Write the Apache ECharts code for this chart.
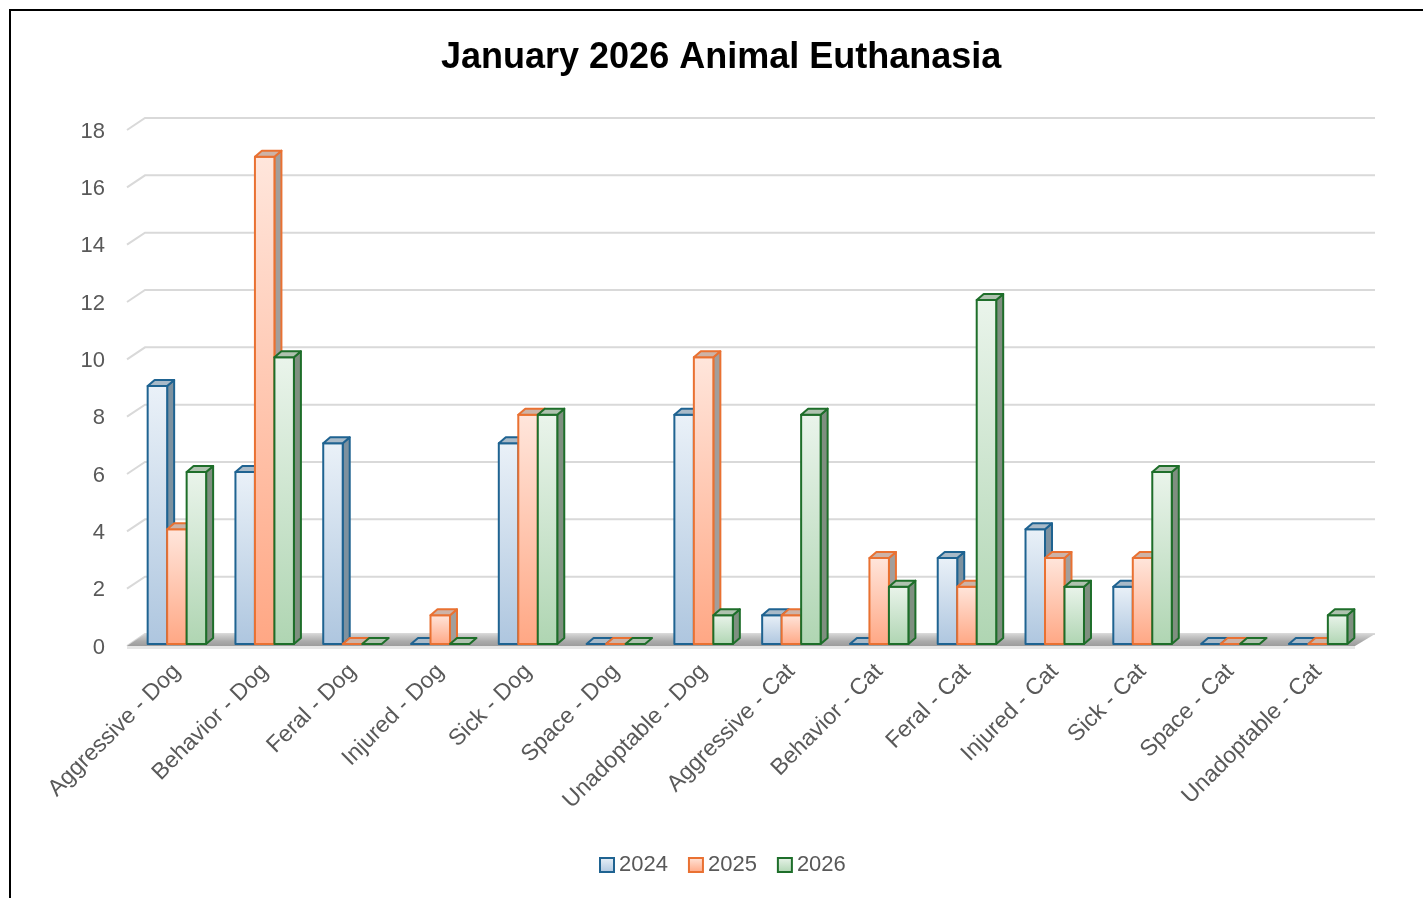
<!DOCTYPE html>
<html>
<head>
<meta charset="utf-8">
<script src="https://cdn.jsdelivr.net/npm/echarts@6/dist/echarts.min.js"></script>
<style>
html,body{margin:0;padding:0;background:#fff;}
#chart{width:1423px;height:898px;}
</style>
</head>
<body>
<div id="chart"></div>
<script>
const categories = ["Aggressive - Dog","Behavior - Dog","Feral - Dog","Injured - Dog","Sick - Dog","Space - Dog","Unadoptable - Dog","Aggressive - Cat","Behavior - Cat","Feral - Cat","Injured - Cat","Sick - Cat","Space - Cat","Unadoptable - Cat"];
const years = ["2024","2025","2026"];
const values2024 = [9,6,7,0,7,0,8,1,0,3,4,2,0,0];
const values2025 = [4,17,0,1,8,0,10,1,3,2,3,3,0,0];
const values2026 = [6,10,0,0,8,0,1,8,2,12,2,6,0,1];
const yTicks = [0,2,4,6,8,10,12,14,16,18];

const styles = [
  {border:'#1F6391', top:'#EAF1F8', bottom:'#AEC6DF', side:'#7D919F', cap:'#A9BAC8'},
  {border:'#E97132', top:'#FFE6DC', bottom:'#FFA784', side:'#A29E9B', cap:'#CDB3A7'},
  {border:'#1E6E2A', top:'#EAF4EB', bottom:'#AFD5B2', side:'#7F8F80', cap:'#AFC2AF'}
];
const DX = 7, DY = -6;
const labelColor = '#595959';
const fontFam = '"Liberation Sans", Arial, sans-serif';

function grad(s){
  return new echarts.graphic.LinearGradient(0,0,0,1,[{offset:0,color:s.top},{offset:1,color:s.bottom}]);
}

function barRender(si){
  return function(params, api){
    const cat = api.value(0), v = api.value(1);
    const c = api.coord([cat, v]);
    const b = api.coord([cat, 0]);
    const catW = api.size([1,0])[0];
    const bw = catW * 0.222;
    const x = c[0] - 1.5*bw + si*bw;
    const s = styles[si];
    const yT = c[1], yB = b[1];
    const children = [];
    if (yB - yT > 0.5) {
      children.push({type:'polygon', shape:{points:[[x+bw,yT],[x+bw+DX,yT+DY],[x+bw+DX,yB+DY],[x+bw,yB]]},
        style:{fill:s.side, stroke:s.border, lineWidth:2, lineJoin:'round'}});
      children.push({type:'rect', shape:{x:x, y:yT, width:bw, height:yB-yT},
        style:{fill:grad(s), stroke:s.border, lineWidth:2, lineJoin:'round'}});
    }
    children.push({type:'polygon', shape:{points:[[x,yT],[x+DX,yT+DY],[x+bw+DX,yT+DY],[x+bw,yT]]},
      style:{fill:s.cap, stroke:s.border, lineWidth:2, lineJoin:'round'}});
    return {type:'group', children:children};
  };
}

function gridRender(params, api){
  const v = api.value(1);
  const p = api.coord([0, v]);
  const cs = params.coordSys;
  const y = p[1];
  const gl = cs.x, gr = cs.x + cs.width;
  return {type:'polyline', shape:{points:[[gl-6,y+2],[gl+12,y-10],[gr+13,y-10]]},
    style:{fill:null, stroke:'#D9D9D9', lineWidth:2}, silent:true};
}

function floorRender(params, api){
  const p = api.coord([0, 0]);
  const cs = params.coordSys;
  const y = p[1];
  const gl = cs.x, gr = cs.x + cs.width;
  return {type:'group', children:[
    {type:'polygon', shape:{points:[[gl-6,y+2],[gl+12,y-10],[gr+13,y-10],[gr-7,y+2]]},
      style:{fill:new echarts.graphic.LinearGradient(0,0,0,1,[{offset:0,color:'#D4D4D4'},{offset:0.6,color:'#ABABAB'},{offset:1,color:'#9C9C9C'}])}},
    {type:'polygon', shape:{points:[[gl-6,y+2],[gr-7,y+2],[gr-7,y+5],[gl-6,y+5]]},
      style:{fill:'#E6E6E6'}}
  ], silent:true};
}

const seriesData = [values2024, values2025, values2026].map(arr => arr.map((v,i)=>[i,v]));

const chart = echarts.init(document.getElementById('chart'), null, {renderer:'canvas'});
chart.setOption({
  backgroundColor:'#fff',
  animation:false,
  title:{
    text:'January 2026 Animal Euthanasia',
    left:436, top:35,
    textStyle:{fontFamily:fontFam, fontWeight:'bold', fontSize:36, color:'#000'}
  },
  graphic:[{type:'rect', shape:{x:10,y:10,width:1440,height:920}, style:{fill:null, stroke:'#000', lineWidth:2}, z:100}],
  legend:{
    bottom: 17, left:594,
    itemWidth:14, itemHeight:14, itemGap:20,
    icon:'rect',
    textStyle:{fontFamily:fontFam, fontSize:22, color:labelColor},
    data: years.map((y,i)=>({name:y, itemStyle:{color:grad(styles[i]), borderColor:styles[i].border, borderWidth:2}}))
  },
  grid:{left:133, right:61, top:128, bottom:254, containLabel:false},
  xAxis:{
    type:'category', data:categories,
    axisLine:{show:false}, axisTick:{show:false},
    axisLabel:{rotate:45, interval:0, margin:24, fontFamily:fontFam, fontSize:23, color:labelColor}
  },
  yAxis:{
    type:'value', min:0, max:18, interval:2,
    axisLine:{show:false}, axisTick:{show:false}, splitLine:{show:false},
    axisLabel:{margin:28, formatter:'{v|{value}}',
      rich:{v:{padding:[7,0,0,0], fontFamily:fontFam, fontSize:22, color:labelColor}},
      fontFamily:fontFam, fontSize:22, color:labelColor}
  },
  series:[
    {type:'custom', name:'grid', renderItem:gridRender, data:yTicks.map(v=>[0,v]), z:1, silent:true},
    {type:'custom', name:'floor', renderItem:floorRender, data:[[0,0]], z:2, silent:true},
    {type:'custom', name:years[0], renderItem:barRender(0), data:seriesData[0], z:3, itemStyle:{color:styles[0].bottom}},
    {type:'custom', name:years[1], renderItem:barRender(1), data:seriesData[1], z:4, itemStyle:{color:styles[1].bottom}},
    {type:'custom', name:years[2], renderItem:barRender(2), data:seriesData[2], z:5, itemStyle:{color:styles[2].bottom}}
  ]
});
</script>
</body>
</html>
